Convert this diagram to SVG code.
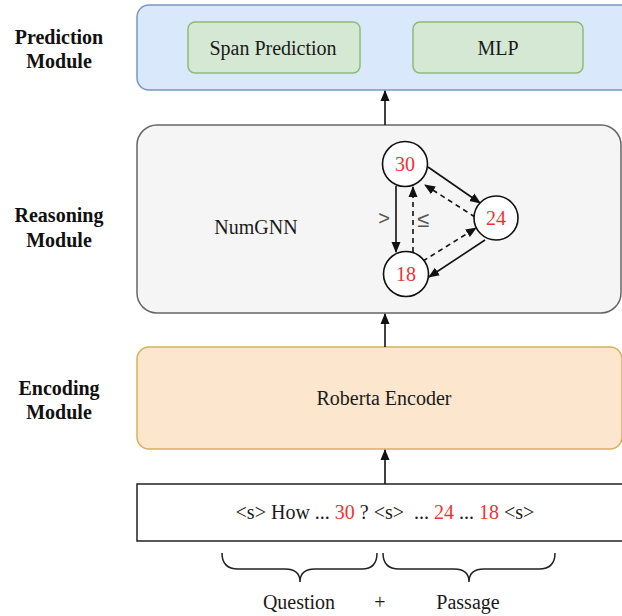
<svg xmlns="http://www.w3.org/2000/svg" width="622" height="616" viewBox="0 0 622 616">
<style>
text{font-family:"Liberation Serif","Times New Roman",serif;font-size:20px;fill:#1a1a1a}
.lbl{font-weight:bold;text-anchor:middle;fill:#111}
.c{text-anchor:middle}
.red{fill:#ee3333}
.e{stroke:#111;stroke-width:1.6;fill:none}
.d{stroke-dasharray:5,4}
.sym{font-family:"Liberation Sans",Arial,sans-serif;font-size:20px;fill:#555;text-anchor:middle}
</style>
<defs>
<marker id="ah" markerWidth="11" markerHeight="11" viewBox="0 0 11 10" refX="10" refY="5" orient="auto" markerUnits="userSpaceOnUse">
<path d="M0,0.5 L11,5 L0,9.5 Z" fill="#111"/>
</marker>
</defs>
<rect width="622" height="616" fill="#fff"/>
<g id="labels">
<text class="lbl" x="59" y="44">Prediction</text>
<text class="lbl" x="59" y="68">Module</text>
<text class="lbl" x="59" y="222">Reasoning</text>
<text class="lbl" x="59" y="247">Module</text>
<text class="lbl" x="59" y="395">Encoding</text>
<text class="lbl" x="59" y="419">Module</text>
</g>
<g id="prediction">
<rect x="137" y="5" width="500" height="85" rx="12" fill="#dae8fc" stroke="#7b95c3" stroke-width="1.5"/>
</g>
<g id="span">
<rect x="188" y="22" width="172" height="51" rx="7" fill="#d5e8d4" stroke="#8fbb75" stroke-width="1.5"/>
<text class="c" x="273" y="55">Span Prediction</text>
</g>
<g id="mlp">
<rect x="413" y="22" width="170" height="51" rx="7" fill="#d5e8d4" stroke="#8fbb75" stroke-width="1.5"/>
<text class="c" x="498" y="55">MLP</text>
</g>
<g id="reasoning">
<rect x="137" y="125" width="484" height="188" rx="20" fill="#f5f5f5" stroke="#666" stroke-width="1.5"/>
<text class="c" x="256" y="234">NumGNN</text>
</g>
<g id="encoding">
<rect x="137" y="347" width="485" height="102" rx="12" fill="#fce6cd" stroke="#d6b15a" stroke-width="1.5"/>
<text class="c" x="384" y="405">Roberta Encoder</text>
</g>
<g id="input">
<rect x="137" y="484" width="500" height="57" fill="#fff" stroke="#222" stroke-width="1.5"/>
<text class="c" x="385" y="519" xml:space="preserve">&lt;s&gt; How ... <tspan class="red">30</tspan> ? &lt;s&gt;  ... <tspan class="red">24</tspan> ... <tspan class="red">18</tspan> &lt;s&gt;</text>
</g>
<g id="connectors">
<line class="e" x1="385" y1="125" x2="385" y2="91" marker-end="url(#ah)"/>
<line class="e" x1="385" y1="347" x2="385" y2="314" marker-end="url(#ah)"/>
<line class="e" x1="385" y1="484" x2="385" y2="450" marker-end="url(#ah)"/>
<line class="e" x1="396" y1="186" x2="396" y2="252" marker-end="url(#ah)"/>
<line class="e d" x1="413" y1="252" x2="413" y2="187" marker-end="url(#ah)"/>
<line class="e" x1="428" y1="167" x2="480" y2="203" marker-end="url(#ah)"/>
<line class="e d" x1="475" y1="217" x2="425" y2="185" marker-end="url(#ah)"/>
<line class="e" x1="485" y1="240" x2="429" y2="277" marker-end="url(#ah)"/>
<line class="e d" x1="423" y1="261" x2="476" y2="228" marker-end="url(#ah)"/>
</g>
<g id="n30">
<circle cx="405" cy="164" r="22.5" fill="#fff" stroke="#111" stroke-width="1.6"/>
<text class="c red" x="405" y="171">30</text>
</g>
<g id="n24">
<circle cx="496" cy="218" r="22" fill="#fff" stroke="#111" stroke-width="1.6"/>
<text class="c red" x="496" y="225">24</text>
</g>
<g id="n18">
<circle cx="406" cy="274" r="22.5" fill="#fff" stroke="#111" stroke-width="1.6"/>
<text class="c red" x="406" y="281">18</text>
</g>
<g id="edge-labels">
<text class="sym" x="384" y="225">&gt;</text>
<text class="sym" x="423" y="227" style="font-size:22px">≤</text>
</g>
<g id="braces" fill="none" stroke="#222" stroke-width="1.5">
<path d="M222,553 Q222,569 238,569 L285,569 Q300,569 300,582 Q300,569 315,569 L362,569 Q377,569 377,553"/>
<path d="M383,553 Q383,569 399,569 L454,569 Q469,569 469,582 Q469,569 484,569 L539,569 Q555,569 555,553"/>
</g>
<g id="bottom-labels">
<text class="c" x="299" y="609">Question</text>
<text class="c" x="380" y="609">+</text>
<text class="c" x="468" y="609">Passage</text>
</g>
</svg>
